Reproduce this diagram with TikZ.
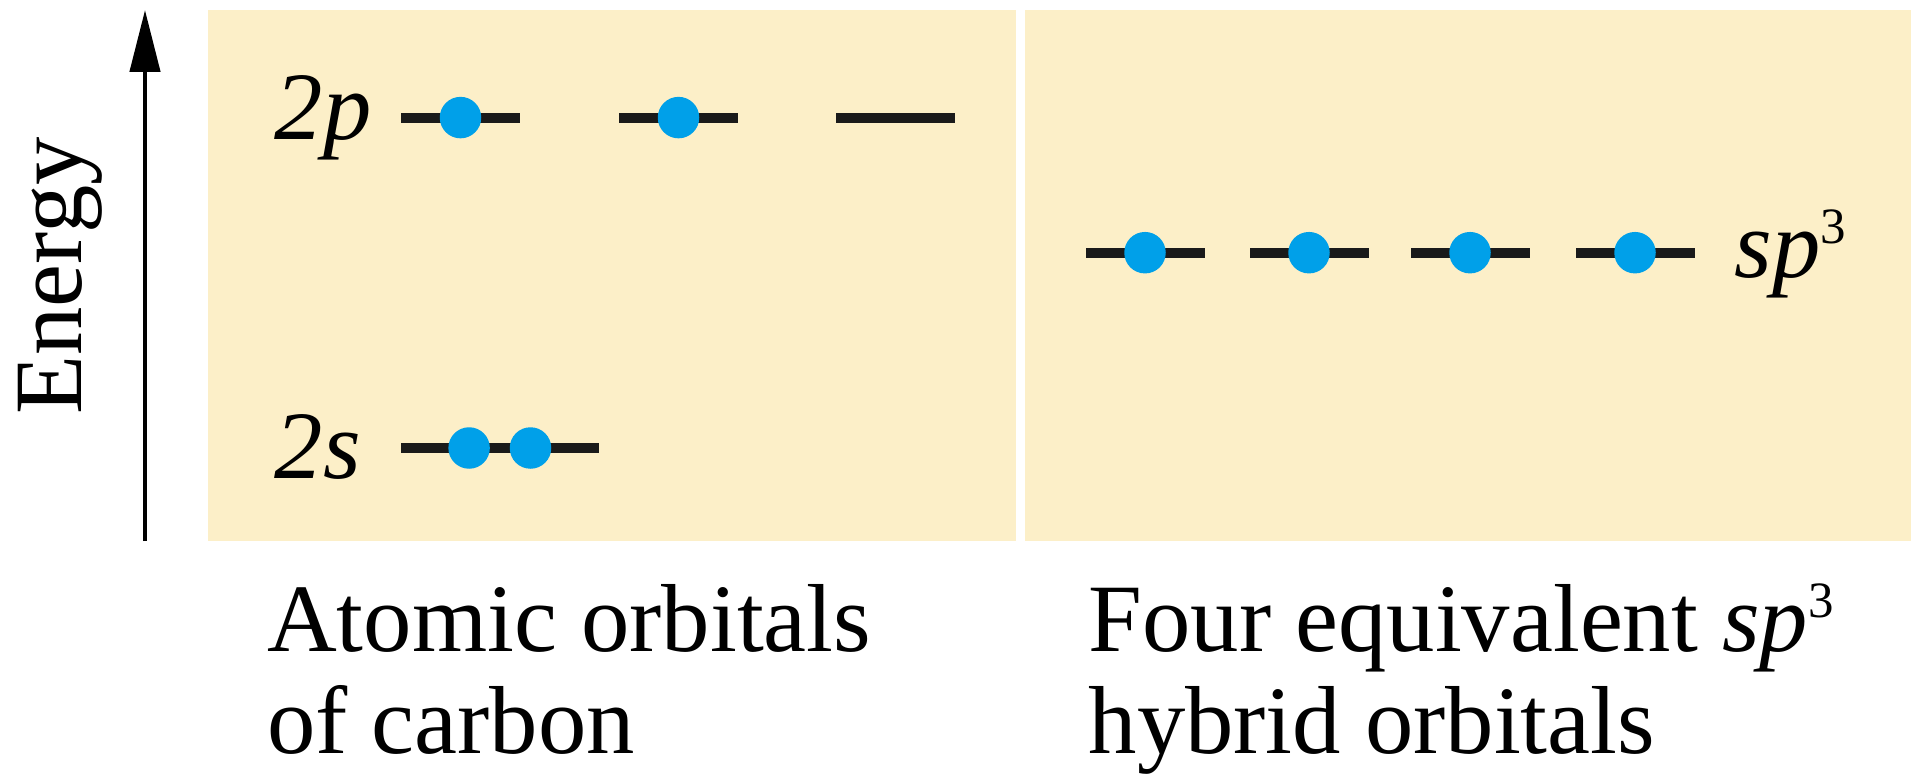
\documentclass[tikz,border=0pt]{standalone}
\usepackage{fontspec}
\setmainfont{Liberation Serif}
\usetikzlibrary{arrows.meta, positioning}
\definecolor{panelTan}{HTML}{FCEFC8}
\definecolor{elecBlue}{HTML}{00A0E9}
\definecolor{levelInk}{HTML}{1A1A1A}
\newcommand{\figsize}{\fontsize{27.5}{33}\selectfont}
\newcommand{\supthree}{\raisebox{9.8pt}{\upshape\fontsize{14.5}{14.5}\selectfont 3}}

\begin{document}
\begin{tikzpicture}[
   orblevel/.style={rectangle, fill=levelInk, inner sep=0pt, minimum height=1mm,
                 minimum width=1.19cm},
   elec/.style={circle, fill=elecBlue, inner sep=0pt, minimum size=4.15mm},
   orb/.style={font=\figsize\itshape, inner sep=0pt, anchor=base west},
   captxt/.style={font=\figsize, inner sep=0pt, anchor=base west}]

\useasboundingbox (0,0) rectangle (19.11,7.76);

\fill[panelTan] (2.076,2.35) rectangle (10.16,7.66);
\fill[panelTan] (10.245,2.35) rectangle (19.11,7.66);

% energy axis
\coordinate (eBot) at (1.45,2.35);
\coordinate (eTop) at (1.45,7.66);
\draw[-{Triangle[length=6.2mm, width=3mm]}, line width=0.45mm] (eBot) -- (eTop);
\node[font=\figsize, rotate=90, anchor=base, inner sep=0pt] (energy) at (0.82,5.0)
     {Energy};

% atomic orbitals of carbon
\node[orblevel] (p1) at (4.605,6.584) {};
\node[orblevel] (p2) at (6.785,6.584) {};
\node[orblevel] (p3) at (8.955,6.584) {};
\node[orblevel, minimum width=1.976cm] (s1) at (4.998,3.28) {};
\node[elec] (p1e) at (p1) {};
\node[elec] (p2e) at (p2) {};
\node[elec] (s1ea) at ([xshift=-3.07mm]s1.center) {};
\node[elec] (s1eb) at ([xshift=3.07mm]s1.center) {};
\node[orb] (lbl2p) at (2.74,6.36) {2p};
\node[orb] (lbl2s) at (2.74,2.98) {2s};

% sp3 hybrids
\node[orblevel] (h1) at (11.45,5.233) {};
\node[orblevel] (h2) at (13.09,5.233) {};
\node[orblevel] (h3) at (14.70,5.233) {};
\node[orblevel] (h4) at (16.35,5.233) {};
\node[elec] (h1e) at (h1) {};
\node[elec] (h2e) at (h2) {};
\node[elec] (h3e) at (h3) {};
\node[elec] (h4e) at (h4) {};
\node[orb] (lblsp) at (17.34,4.98) {sp\supthree};

% captions
\node[captxt] (capA1) at (2.665,1.243) {Atomic orbitals};
\node[captxt] (capA2) at ([yshift=-1.013cm]capA1.base west) {of carbon};
\node[captxt] (capB1) at (10.88,1.243) {Four equivalent \textit{sp}\supthree};
\node[captxt] (capB2) at ([yshift=-1.013cm]capB1.base west) {hybrid orbitals};
\end{tikzpicture}
\end{document}
